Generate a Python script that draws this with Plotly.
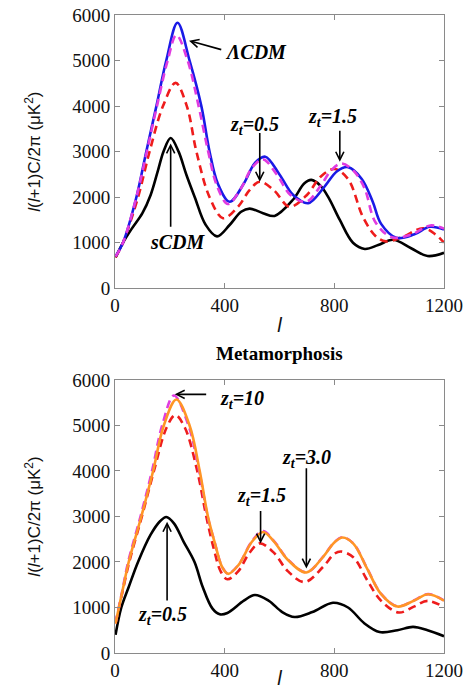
import plotly.graph_objects as go

# ---------------- Data ----------------
# Top panel
l_lcdm = [2, 29, 78, 114, 151, 187, 228, 272, 315, 345, 375, 418, 470, 510, 548, 600, 650, 705, 760, 810, 850, 900, 940, 970, 1026, 1090, 1148, 1200]
v_lcdm = [700, 1000, 2000, 3000, 4000, 5000, 5830, 5000, 4000, 3000, 2300, 1900, 2300, 2750, 2890, 2500, 2050, 1870, 2200, 2570, 2660, 2400, 1900, 1420, 1110, 1180, 1350, 1290]

l_top_z15 = [2, 29, 78, 116, 153, 192, 224, 265, 305, 340, 372, 412, 460, 500, 540, 590, 640, 698, 750, 790, 826, 870, 910, 950, 1010, 1080, 1150, 1200]
v_top_z15 = [700, 1000, 2000, 3000, 4000, 5000, 5560, 5000, 4000, 3000, 2250, 1850, 2200, 2650, 2830, 2500, 2050, 1900, 2250, 2600, 2740, 2580, 2200, 1450, 1120, 1180, 1380, 1310]

l_top_z05 = [2, 29, 84, 126, 175, 221, 262, 297, 345, 394, 450, 490, 528, 580, 637, 700, 750, 800, 850, 904, 950, 988, 1050, 1123, 1170, 1200]
v_top_z05 = [680, 1000, 2000, 3000, 4000, 4510, 4000, 3000, 2000, 1540, 1800, 2150, 2340, 2150, 1790, 2050, 2450, 2620, 2400, 1570, 1150, 1030, 1130, 1320, 1180, 1000]

l_scdm = [2, 29, 60, 100, 130, 155, 178, 203, 232, 260, 291, 330, 372, 418, 460, 491, 540, 582, 650, 690, 716, 750, 780, 820, 868, 911, 960, 1014, 1080, 1140, 1200]
v_scdm = [680, 1000, 1300, 1650, 2050, 2550, 3020, 3300, 3000, 2500, 2000, 1400, 1140, 1390, 1680, 1750, 1650, 1590, 1950, 2300, 2380, 2250, 1980, 1500, 1000, 865, 950, 1065, 880, 710, 780]

# Bottom panel (Metamorphosis)
l_bot_z10 = [2, 25, 48, 93, 135, 172, 215, 268, 307, 338, 365, 390, 412, 450, 500, 540, 580, 630, 698, 760, 800, 830, 870, 920, 970, 1030, 1090, 1142, 1200]
v_bot_z10 = [660, 1320, 2000, 3000, 4000, 5000, 5660, 5000, 4000, 3000, 2400, 1900, 1745, 1935, 2460, 2680, 2460, 2060, 1775, 2125, 2435, 2545, 2405, 1855, 1305, 1025, 1155, 1295, 1155]

l_bot_z30 = [2, 25, 50, 96, 139, 178, 224, 272, 309, 339, 365, 390, 412, 450, 500, 540, 580, 630, 698, 760, 800, 830, 870, 920, 970, 1030, 1090, 1142, 1200]
v_bot_z30 = [650, 1300, 2000, 3000, 4000, 5000, 5570, 5000, 4000, 3000, 2400, 1900, 1740, 1930, 2450, 2660, 2450, 2050, 1770, 2120, 2430, 2540, 2400, 1850, 1300, 1020, 1150, 1290, 1150]

l_bot_z15 = [2, 25, 52, 98, 142, 188, 220, 255, 300, 333, 360, 385, 410, 450, 490, 528, 580, 630, 692, 760, 800, 825, 870, 920, 970, 1035, 1090, 1140, 1200]
v_bot_z15 = [650, 1280, 2000, 3000, 4000, 4950, 5230, 4950, 4000, 3000, 2300, 1800, 1620, 1800, 2200, 2410, 2200, 1800, 1560, 1900, 2180, 2230, 2100, 1600, 1150, 890, 1020, 1145, 1010]

l_bot_z05 = [2, 23, 50, 84, 130, 165, 187, 215, 250, 290, 320, 355, 382, 410, 470, 510, 560, 610, 655, 720, 795, 850, 910, 965, 1030, 1087, 1140, 1200]
v_bot_z05 = [400, 1000, 1450, 2000, 2600, 2900, 2990, 2850, 2450, 2000, 1450, 980, 850, 880, 1150, 1275, 1150, 900, 790, 900, 1105, 1000, 650, 460, 500, 575, 500, 370]

x_ticks = [0, 400, 800, 1200]
y_ticks = [0, 1000, 2000, 3000, 4000, 5000, 6000]

# ---------------- Styles ----------------
BLUE = "#1a1ae6"
MAGENTA = "#e03ce0"
RED = "#ee1c1c"
ORANGE = "#ff9526"
BLACK = "#000000"
DASH = "8px,5px"
SERIF = "Liberation Serif, Times New Roman, Times, serif"
SANS = "Liberation Sans, Arial, sans-serif"

fig = go.Figure()

def add(x, y, color, dash, xa, ya, name):
    fig.add_trace(go.Scatter(
        x=x, y=y, mode="lines", name=name, xaxis=xa, yaxis=ya,
        line=dict(color=color, width=2.6, dash=dash, shape="spline", smoothing=1.0),
        showlegend=False, hoverinfo="skip"))

# top
add(l_scdm, v_scdm, BLACK, "solid", "x", "y", "sCDM")
add(l_top_z05, v_top_z05, RED, DASH, "x", "y", "z_t=0.5")
add(l_lcdm, v_lcdm, BLUE, "solid", "x", "y", "LCDM")
add(l_top_z15, v_top_z15, MAGENTA, DASH, "x", "y", "z_t=1.5")
# bottom
add(l_bot_z05, v_bot_z05, BLACK, "solid", "x2", "y2", "z_t=0.5")
add(l_bot_z15, v_bot_z15, RED, DASH, "x2", "y2", "z_t=1.5")
add(l_bot_z10, v_bot_z10, MAGENTA, DASH, "x2", "y2", "z_t=10")
add(l_bot_z30, v_bot_z30, ORANGE, "solid", "x2", "y2", "z_t=3.0")

axis_common = dict(
    showline=True, linecolor="#8a8a8a", linewidth=1, mirror="ticks",
    ticks="inside", ticklen=5, tickcolor="#8a8a8a", tickwidth=1,
    showgrid=False, zeroline=False, automargin=False, ticklabeloverflow="allow",
    tickfont=dict(family=SERIF, size=19, color="#111"),
)

ytitle = dict(text="<i>l</i>(<i>l</i>+1)C/2π (μK<sup>2</sup>)",
              font=dict(family=SANS, size=17, color="#111"), standoff=27)
xtitle = dict(text="<i>l</i>", font=dict(family=SANS, size=20, color="#111"), standoff=2)

fig.update_layout(
    width=476, height=689,
    margin=dict(l=115, r=32, t=15, b=36, autoexpand=False),
    paper_bgcolor="white", plot_bgcolor="white",
    xaxis=dict(domain=[0, 1], anchor="y", range=[0, 1200], tickvals=x_ticks, title=xtitle, **axis_common),
    yaxis=dict(domain=[0.5716, 1], anchor="x", range=[0, 6000], tickvals=y_ticks, title=ytitle, **axis_common),
    xaxis2=dict(domain=[0, 1], anchor="y2", range=[0, 1200], tickvals=x_ticks, title=xtitle, **axis_common),
    yaxis2=dict(domain=[0, 0.4279], anchor="x2", range=[0, 6000], tickvals=y_ticks, title=ytitle, **axis_common),
)

lab_font = dict(family=SERIF, size=20, color="#000")
ann = []

def label(text, x, y, xr, yr):
    ann.append(dict(text="<b><i>" + text + "</i></b>", x=x, y=y, xref=xr, yref=yr,
                    showarrow=False, font=lab_font, xanchor="center", yanchor="middle"))

def arrow(hx, hy, tx, ty, xr, yr):
    ann.append(dict(text="", x=hx, y=hy, ax=tx, ay=ty, xref=xr, yref=yr, axref=xr, ayref=yr,
                    showarrow=True, arrowhead=5, arrowsize=1.0, arrowwidth=1.6, arrowcolor="#000",
                    standoff=0, startstandoff=0))

# top annotations
label("ΛCDM", 516, 5188, "x", "y")
arrow(270, 5436, 393, 5231, "x", "y")
label("sCDM", 229, 1016, "x", "y")
arrow(203, 3180, 203, 1320, "x", "y")
label("z<sub>t</sub>=0.5", 510, 3585, "x", "y")
arrow(528, 2340, 528, 3440, "x", "y")
label("z<sub>t</sub>=1.5", 794, 3760, "x", "y")
arrow(820, 2780, 820, 3490, "x", "y")

# bottom annotations
label("z<sub>t</sub>=10", 462, 5575, "x2", "y2")
arrow(218, 5685, 338, 5685, "x2", "y2")
label("z<sub>t</sub>=3.0", 699, 4277, "x2", "y2")
arrow(698, 1857, 698, 4092, "x2", "y2")
label("z<sub>t</sub>=1.5", 534, 3432, "x2", "y2")
arrow(531, 2407, 531, 3155, "x2", "y2")
label("z<sub>t</sub>=0.5", 174, 829, "x2", "y2")
arrow(190, 2882, 190, 1122, "x2", "y2")

# panel title
ann.append(dict(text="<b>Metamorphosis</b>", x=0.5, y=(653 - 354) / 638, xref="paper", yref="paper",
                showarrow=False, font=dict(family=SERIF, size=19, color="#000"),
                xanchor="center", yanchor="middle"))

fig.update_layout(annotations=ann)
fig.write_html("out.html", config={"displayModeBar": False},
               post_script="document.body.style.margin='0px';document.body.style.padding='0px';")
